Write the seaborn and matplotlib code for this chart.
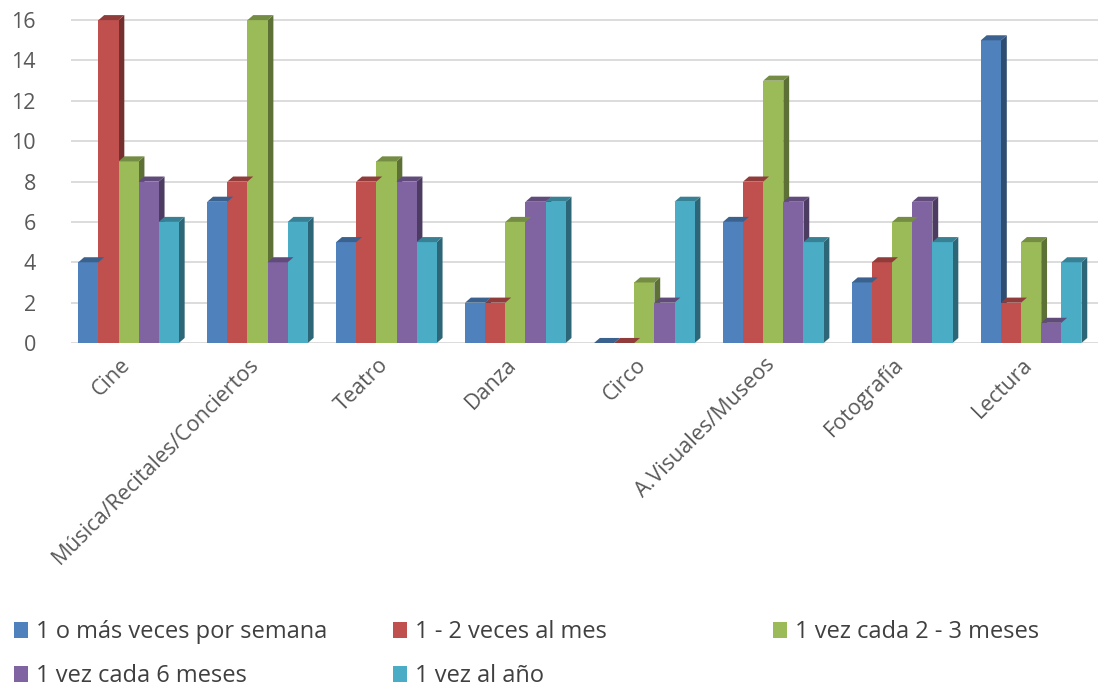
import pandas as pd
import numpy as np
import matplotlib
matplotlib.use('Agg')
import matplotlib.pyplot as plt
import matplotlib.transforms as mtransforms
from matplotlib.patches import Polygon, Patch
from matplotlib.colors import to_rgb
import seaborn as sns

# Data
categorias = ['Cine', 'Música/Recitales/Conciertos', 'Teatro', 'Danza', 'Circo',
              'A.Visuales/Museos', 'Fotografía', 'Lectura']
frecuencias = ['1 o más veces por semana', '1 - 2 veces al mes', '1 vez cada 2 - 3 meses',
               '1 vez cada 6 meses', '1 vez al año']
semanal = [4, 7, 5, 2, 0, 6, 3, 15]
mensual = [16, 8, 8, 2, 0, 8, 4, 2]
trimestral = [9, 16, 9, 6, 3, 13, 6, 5]
semestral = [8, 4, 8, 7, 2, 7, 7, 1]
anual = [6, 6, 5, 7, 7, 5, 5, 4]
colores = ['#4F81BD', '#C0504D', '#9BBB59', '#8064A2', '#4BACC6']

series = [semanal, mensual, trimestral, semestral, anual]
rows = []
for f, vals in zip(frecuencias, series):
    for c, v in zip(categorias, vals):
        rows.append({'Actividad': c, 'Frecuencia': f, 'Valor': v})
df = pd.DataFrame(rows)

sns.set_style('white')
plt.rcParams['font.family'] = ['Open Sans', 'DejaVu Sans']

fig = plt.figure(figsize=(11.11, 6.98), dpi=100)
ax = fig.add_axes([0.0635, 0.5086, 0.925, 0.477])

sns.barplot(data=df, x='Actividad', y='Valor', hue='Frecuencia', order=categorias,
            hue_order=frecuencias, palette=colores, saturation=1, width=0.78,
            legend=False, ax=ax, zorder=3)

# fake 3D faces on each bar
dx, dy = 0.045, 0.25
for bar in list(ax.patches):
    x, w, h = bar.get_x(), bar.get_width(), bar.get_height()
    if np.isnan(h):
        continue
    base = np.array(to_rgb(bar.get_facecolor()))
    bar.set_edgecolor('none')
    side = Polygon([(x + w, 0), (x + w + dx, dy), (x + w + dx, h + dy), (x + w, h)],
                   closed=True, facecolor=base * 0.6, edgecolor='none', zorder=2.9)
    top = Polygon([(x, h), (x + dx, h + dy), (x + w + dx, h + dy), (x + w, h)],
                  closed=True, facecolor=base * 0.75, edgecolor='none', zorder=3.1)
    ax.add_patch(side)
    ax.add_patch(top)

ax.set_xlim(-0.45, 7.52)
ax.set_ylim(0, 16.5)
ax.set_yticks(range(0, 17, 2))
ax.yaxis.grid(True, color='#D9D9D9', linewidth=1.3, zorder=0)
ax.set_axisbelow(True)
for s in ax.spines.values():
    s.set_visible(False)
ax.set_xlabel('')
ax.set_ylabel('')
ax.tick_params(axis='both', length=0, labelsize=15.5, colors='#595959', pad=8)
plt.setp(ax.get_xticklabels(), rotation=45, ha='right', rotation_mode='anchor')
ax.tick_params(axis='y', pad=25)
shift = mtransforms.ScaledTranslation(-9 / 100, 0, fig.dpi_scale_trans)
for lab in ax.get_xticklabels():
    lab.set_transform(lab.get_transform() + shift)

# legend laid out as three fixed columns, row by row
handles = [Patch(facecolor=c, edgecolor='none') for c in colores]
columnas = [[0, 3], [1, 4], [2]]
xs = [0.004, 0.345, 0.687]
for xcol, idx in zip(xs, columnas):
    fig.legend([handles[i] for i in idx], [frecuencias[i] for i in idx],
               loc='upper left', bbox_to_anchor=(xcol, 0.125), frameon=False,
               fontsize=17, handlelength=0.6, handleheight=0.7, handletextpad=0.35,
               labelcolor='#404040', borderaxespad=0.0, labelspacing=0.85)

fig.savefig('out.png', dpi=100)
